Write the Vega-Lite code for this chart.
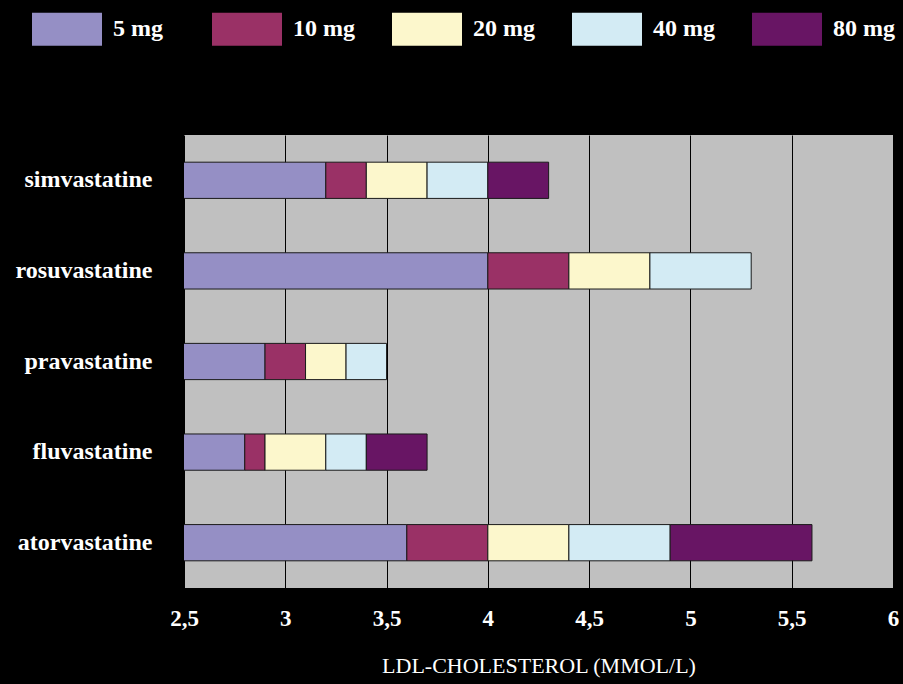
{
  "$schema": "https://vega.github.io/schema/vega-lite/v6.json",
  "autosize": "none",
  "width": 709,
  "height": 453,
  "padding": {"left": 184, "top": 135, "right": 10, "bottom": 96},
  "background": "black",
  "config": {
    "view": {"fill": "#c0c0c0", "stroke": null},
    "font": "Liberation Serif"
  },
  "data": {
    "values": [
      {"statin": "simvastatine", "dose": "5 mg", "mg": 5, "ldl": 3.2},
      {"statin": "simvastatine", "dose": "10 mg", "mg": 10, "ldl": 0.2},
      {"statin": "simvastatine", "dose": "20 mg", "mg": 20, "ldl": 0.3},
      {"statin": "simvastatine", "dose": "40 mg", "mg": 40, "ldl": 0.3},
      {"statin": "simvastatine", "dose": "80 mg", "mg": 80, "ldl": 0.3},
      {"statin": "rosuvastatine", "dose": "5 mg", "mg": 5, "ldl": 4.0},
      {"statin": "rosuvastatine", "dose": "10 mg", "mg": 10, "ldl": 0.4},
      {"statin": "rosuvastatine", "dose": "20 mg", "mg": 20, "ldl": 0.4},
      {"statin": "rosuvastatine", "dose": "40 mg", "mg": 40, "ldl": 0.5},
      {"statin": "pravastatine", "dose": "5 mg", "mg": 5, "ldl": 2.9},
      {"statin": "pravastatine", "dose": "10 mg", "mg": 10, "ldl": 0.2},
      {"statin": "pravastatine", "dose": "20 mg", "mg": 20, "ldl": 0.2},
      {"statin": "pravastatine", "dose": "40 mg", "mg": 40, "ldl": 0.2},
      {"statin": "fluvastatine", "dose": "5 mg", "mg": 5, "ldl": 2.8},
      {"statin": "fluvastatine", "dose": "10 mg", "mg": 10, "ldl": 0.1},
      {"statin": "fluvastatine", "dose": "20 mg", "mg": 20, "ldl": 0.3},
      {"statin": "fluvastatine", "dose": "40 mg", "mg": 40, "ldl": 0.2},
      {"statin": "fluvastatine", "dose": "80 mg", "mg": 80, "ldl": 0.3},
      {"statin": "atorvastatine", "dose": "5 mg", "mg": 5, "ldl": 3.6},
      {"statin": "atorvastatine", "dose": "10 mg", "mg": 10, "ldl": 0.4},
      {"statin": "atorvastatine", "dose": "20 mg", "mg": 20, "ldl": 0.4},
      {"statin": "atorvastatine", "dose": "40 mg", "mg": 40, "ldl": 0.5},
      {"statin": "atorvastatine", "dose": "80 mg", "mg": 80, "ldl": 0.7}
    ]
  },
  "mark": {"type": "bar", "clip": true, "stroke": "#1a1a1a", "strokeWidth": 1},
  "encoding": {
    "y": {
      "field": "statin",
      "type": "nominal",
      "sort": "descending",
      "scale": {"paddingInner": 0.6, "paddingOuter": 0.3},
      "axis": {
        "title": null,
        "ticks": false,
        "domain": false,
        "labelColor": "white",
        "labelFont": "Liberation Serif",
        "labelFontSize": 24,
        "labelFontWeight": "bold",
        "labelPadding": 32
      }
    },
    "x": {
      "field": "ldl",
      "type": "quantitative",
      "stack": "zero",
      "scale": {"domain": [2.5, 6], "nice": false, "zero": false},
      "axis": {
        "values": [2.5, 3, 3.5, 4, 4.5, 5, 5.5, 6],
        "format": "~g",
        "labelExpr": "replace(datum.label, '.', ',')",
        "title": "LDL-CHOLESTEROL (MMOL/L)",
        "titleColor": "white",
        "titleFont": "Liberation Serif",
        "titleFontSize": 22,
        "titleFontWeight": "normal",
        "titlePadding": 25,
        "ticks": false,
        "domain": false,
        "grid": true,
        "gridColor": "black",
        "gridWidth": 1,
        "gridOpacity": 1,
        "labelColor": "white",
        "labelFont": "Liberation Serif",
        "labelFontSize": 23,
        "labelFontWeight": "bold",
        "labelPadding": 19,
        "labelFlush": false
      }
    },
    "color": {
      "field": "dose",
      "type": "nominal",
      "scale": {
        "domain": ["5 mg", "10 mg", "20 mg", "40 mg", "80 mg"],
        "range": ["#958fc5", "#9a3166", "#fcf7cc", "#d3ebf4", "#681564"]
      },
      "legend": {
        "title": null,
        "orient": "none",
        "legendX": -152,
        "legendY": -141,
        "direction": "horizontal",
        "columns": 5,
        "gridAlign": "all",
        "columnPadding": 37,
        "symbolType": "M-1,-0.47H1V0.47H-1Z",
        "symbolSize": 4900,
        "symbolStrokeWidth": 0,
        "symbolOpacity": 1,
        "labelColor": "white",
        "labelFont": "Liberation Serif",
        "labelFontSize": 24,
        "labelFontWeight": "bold",
        "labelOffset": 11,
        "labelLimit": 200
      }
    },
    "order": {"field": "mg", "type": "quantitative", "sort": "ascending"}
  }
}
